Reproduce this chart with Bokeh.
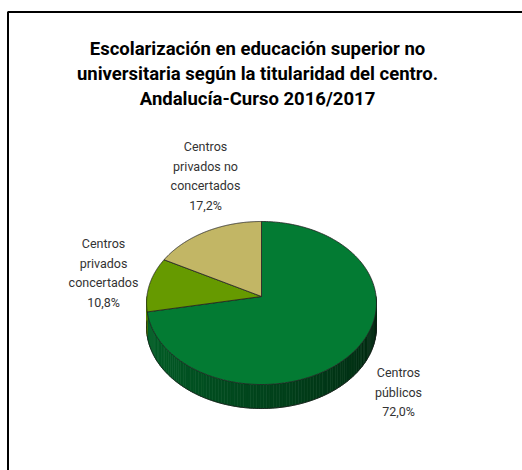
import numpy as np
from bokeh.plotting import figure
from bokeh.models import Range1d
from bokeh.core.properties import value
from bokeh.embed import file_html
from bokeh.resources import INLINE

# ---- data ----
TITLE_LINES = ["Escolarización en educación superior no",
               "universitaria según la titularidad del centro.",
               "Andalucía-Curso 2016/2017"]
categories = ["Centros públicos", "Centros privados concertados", "Centros privados no concertados"]
values = [72.0, 10.8, 17.2]
label_lines = [["Centros", "públicos"],
               ["Centros", "privados", "concertados"],
               ["Centros", "privados no", "concertados"]]
colors = ["#037B33", "#669A00", "#C2B665"]

# ---- layout (pixel coordinates) ----
W, H = 522, 470
p = figure(width=W, height=H, output_backend="svg", toolbar_location=None,
           x_axis_type=None, y_axis_type=None, min_border=0,
           x_range=Range1d(0, W), y_range=Range1d(H, 0))
p.grid.visible = False
p.outline_line_color = None
p.background_fill_color = "white"
p.border_fill_color = "white"

# border frame
p.line([522, 7.5, 7.5], [11.5, 11.5, 470], line_color="black", line_width=2)

# title
p.text(x=[257] * 3, y=[48, 73, 98], text=TITLE_LINES, text_align="center",
       text_baseline="middle", text_font=value("Roboto"), text_font_style="bold",
       text_font_size="18.5px", text_color="black")

# pie projection
CX, CY, A, K, B, D = 261.0, 296.0, 81.0, 0.0798, 114.6, 24.0

def proj(th):
    u, v = np.sin(th), np.cos(th)
    d = 1 + K * v
    return CX + B * u / d, CY - A * v / d

def shade(hexc, f):
    r, g, b = int(hexc[1:3], 16), int(hexc[3:5], 16), int(hexc[5:7], 16)
    return "#%02x%02x%02x" % (int(r * f), int(g * f), int(b * f))

total = sum(values)
bounds = np.concatenate([[0], np.cumsum(values)]) / total * 2 * np.pi

# sides (front half only)
sx, sy, sc = [], [], []
for i in range(len(values)):
    a0, a1 = max(bounds[i], np.pi / 2), min(bounds[i + 1], 3 * np.pi / 2)
    if a1 <= a0:
        continue
    n = max(2, int(np.degrees(a1 - a0) / 1.5))
    ths = np.linspace(a0, a1, n + 1)
    for ta, tb in zip(ths[:-1], ths[1:]):
        xa, ya = proj(ta)
        xb, yb = proj(tb)
        t = ((ta + tb) / 2 - np.pi / 2) / np.pi
        sx.append([xa, xb, xb, xa])
        sy.append([ya, yb, yb + D, ya + D])
        sc.append(shade(colors[i], 0.28 + 0.55 * t))
p.patches(sx, sy, fill_color=sc, line_color=sc, line_width=0.6)

# side bottom edge
ths = np.linspace(np.pi / 2, 3 * np.pi / 2, 200)
bx, by = proj(ths)
p.line(bx, by + D, line_color="#1a1a1a", line_width=0.8)

# top face slices
tx, ty = [], []
for i in range(len(values)):
    ths = np.linspace(bounds[i], bounds[i + 1], 200)
    x, y = proj(ths)
    tx.append([CX] + list(x))
    ty.append([CY] + list(y))
p.patches(tx, ty, fill_color=colors, line_color="#222222", line_width=0.8)

# labels
label_pos = [(398, 391.5), (103, 272.5), (205, 175.5)]
LS = 19.5
lx, ly, lt = [], [], []
for i, v in enumerate(values):
    lines = label_lines[i] + [f"{v:.1f}%".replace(".", ",")]
    cx, cy = label_pos[i]
    n = len(lines)
    for j, s in enumerate(lines):
        lx.append(cx)
        ly.append(cy + (j - (n - 1) / 2) * LS)
        lt.append(s)
p.text(x=lx, y=ly, text=lt, text_align="center", text_baseline="middle",
       text_font=value("Roboto"), text_font_size="12.5px", text_color="#333333")

open("out.html", "w").write(file_html(p, INLINE))
